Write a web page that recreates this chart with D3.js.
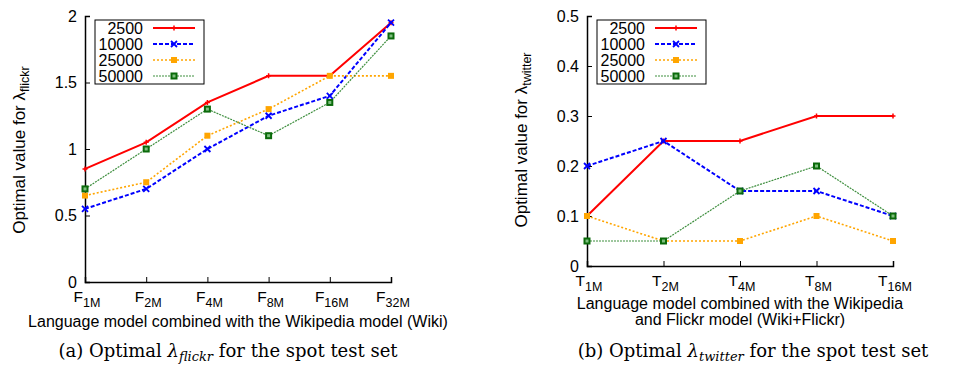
<!DOCTYPE html>
<html>
<head>
<meta charset="utf-8">
<script src="https://cdn.jsdelivr.net/npm/d3@7"></script>
<style>
  body { margin: 0; background: #fff; }
  svg { display: block; }
</style>
</head>
<body>
<svg id="chart" width="953" height="373"></svg>
<script>
// series names (training set sizes)
const seriesNames = ['2500', '10000', '25000', '50000'];

// left panel: lambda_flickr
const flickrCats = ['1M', '2M', '4M', '8M', '16M', '32M'];
const flickr2500 = [0.85, 1.05, 1.35, 1.55, 1.55, 1.95];
const flickr10000 = [0.55, 0.70, 1.00, 1.25, 1.40, 1.95];
const flickr25000 = [0.65, 0.75, 1.10, 1.30, 1.55, 1.55];
const flickr50000 = [0.70, 1.00, 1.30, 1.10, 1.35, 1.85];
const flickrTicks = [0, 0.5, 1, 1.5, 2];

// right panel: lambda_twitter
const twitterCats = ['1M', '2M', '4M', '8M', '16M'];
const twitter2500 = [0.10, 0.25, 0.25, 0.30, 0.30];
const twitter10000 = [0.20, 0.25, 0.15, 0.15, 0.10];
const twitter25000 = [0.10, 0.05, 0.05, 0.10, 0.05];
const twitter50000 = [0.05, 0.05, 0.15, 0.20, 0.10];
const twitterTicks = [0, 0.1, 0.2, 0.3, 0.4, 0.5];

const styles = [
  { color: '#ff0000', width: 2, dash: null, marker: 'plus' },
  { color: '#0000ff', width: 2, dash: '4,2', marker: 'cross' },
  { color: '#ffa500', width: 1.6, dash: '2,2', marker: 'fsquare' },
  { color: '#3f8f3f', width: 1.2, dash: '2,1', marker: 'osquare' }
];

const svg = d3.select('#chart');
const font = "'Liberation Sans', Arial, sans-serif";
const serif = "'DejaVu Serif', serif";

function marker(g, type, x, y, color) {
  if (type === 'plus') {
    g.append('path').attr('d', `M${x-2.5},${y}h5M${x},${y-2.5}v5`)
      .attr('stroke', color).attr('stroke-width', 1.5);
  } else if (type === 'cross') {
    g.append('path').attr('d', `M${x-3},${y-3}l6,6M${x-3},${y+3}l6,-6`)
      .attr('stroke', color).attr('stroke-width', 1.8);
  } else if (type === 'fsquare') {
    g.append('rect').attr('x', x-3).attr('y', y-3).attr('width', 6).attr('height', 6)
      .attr('fill', color);
  } else {
    g.append('rect').attr('x', x-3.5).attr('y', y-3.5).attr('width', 7).attr('height', 7)
      .attr('fill', '#0a6a0a');
    g.append('rect').attr('x', x-1.5).attr('y', y-1.5).attr('width', 3).attr('height', 3)
      .attr('fill', '#7fbf7f');
  }
}

function drawPanel(p) {
  const x = d3.scalePoint().domain(p.cats).range([p.left, p.right]);
  const y = d3.scaleLinear().domain([0, p.ymax]).range([p.bottom, p.top]);
  const g = svg.append('g');

  // axes (left + bottom only)
  const ya = g.append('g').attr('transform', `translate(${p.left},0)`)
    .call(d3.axisLeft(y).tickValues(p.ticks).tickSize(-5).tickPadding(8).tickFormat(d3.format('~g')));
  const xa = g.append('g').attr('transform', `translate(0,${p.bottom})`)
    .call(d3.axisBottom(x).tickSize(-5).tickFormat(''));
  [ya, xa].forEach(a => {
    a.select('.domain').attr('stroke', '#000').attr('stroke-width', 1.5);
    a.selectAll('.tick line').attr('stroke', '#000');
  });
  ya.selectAll('.tick text').attr('font-family', font).attr('font-size', 16).attr('fill', '#000');

  // x tick labels with subscripts
  p.cats.forEach(c => {
    const t = g.append('text').attr('x', x(c) + 2).attr('y', p.bottom + 20)
      .attr('text-anchor', 'middle').attr('font-family', font).attr('font-size', 15.5);
    t.append('tspan').text(p.letter);
    t.append('tspan').attr('dy', 5).attr('font-size', 12.5).text(c);
  });

  // y axis title
  const yt = g.append('text')
    .attr('transform', `translate(${p.ylabX},${p.ylabY}) rotate(-90)`)
    .attr('text-anchor', 'middle').attr('font-family', font).attr('font-size', 17);
  yt.append('tspan').text('Optimal value for λ');
  yt.append('tspan').attr('dy', 4).attr('font-size', 12.5).text(p.sub);

  // x axis title lines
  p.xtitle.forEach((line, i) => {
    g.append('text').attr('x', p.xtitleX).attr('y', p.bottom + p.xtitleDy + i * 16)
      .attr('text-anchor', 'middle').attr('font-family', font).attr('font-size', 16)
      .text(line);
  });

  // series
  p.series.forEach((vals, i) => {
    const s = styles[i];
    const line = d3.line().x((d, j) => x(p.cats[j])).y(d => y(d));
    g.append('path').datum(vals).attr('d', line).attr('fill', 'none')
      .attr('stroke', s.color).attr('stroke-width', s.width)
      .attr('stroke-dasharray', s.dash);
    vals.forEach((v, j) => marker(g, s.marker, x(p.cats[j]), y(v), s.color));
  });

  // legend
  const lg = g.append('g');
  lg.append('rect').attr('x', p.legX).attr('y', p.top + 4).attr('width', 109).attr('height', 64)
    .attr('fill', '#fff').attr('stroke', '#000').attr('stroke-width', 1);
  seriesNames.forEach((n, i) => {
    const s = styles[i];
    const ry = p.top + 12 + i * 16;
    lg.append('text').attr('x', p.legX + 48).attr('y', ry + 6)
      .attr('text-anchor', 'end').attr('font-family', font).attr('font-size', 16).text(n);
    lg.append('line').attr('x1', p.legX + 58).attr('x2', p.legX + 100)
      .attr('y1', ry).attr('y2', ry).attr('stroke', s.color)
      .attr('stroke-width', s.width).attr('stroke-dasharray', s.dash);
    marker(lg, s.marker, p.legX + 79, ry, s.color);
  });

  // caption
  const cap = svg.append('text').attr('x', p.capX).attr('y', 357)
    .attr('text-anchor', 'middle').attr('font-family', serif)
    .attr('font-size', 18);
  cap.append('tspan').text(p.capPre + ' Optimal ');
  cap.append('tspan').attr('font-style', 'italic').text('λ');
  cap.append('tspan').attr('dy', 4).attr('font-size', 13).attr('font-style', 'italic').text(p.sub);
  cap.append('tspan').attr('dy', -4).text(' for the spot test set');
}

drawPanel({
  cats: flickrCats, ymax: 2, ticks: flickrTicks, letter: 'F', sub: 'flickr',
  left: 85, right: 391, top: 16, bottom: 282,
  series: [flickr2500, flickr10000, flickr25000, flickr50000],
  ylabX: 25, ylabY: 150, xtitle: ['Language model combined with the Wikipedia model (Wiki)'],
  xtitleX: 238, xtitleDy: 45,
  legX: 95, capX: 228, capPre: '(a)'
});

drawPanel({
  cats: twitterCats, ymax: 0.5, ticks: twitterTicks, letter: 'T', sub: 'twitter',
  left: 587, right: 893, top: 16, bottom: 266,
  series: [twitter2500, twitter10000, twitter25000, twitter50000],
  ylabX: 527, ylabY: 140,
  xtitle: ['Language model combined with the Wikipedia', 'and Flickr model (Wiki+Flickr)'],
  xtitleX: 740, xtitleDy: 43,
  legX: 597, capX: 753, capPre: '(b)'
});
</script>
</body>
</html>
